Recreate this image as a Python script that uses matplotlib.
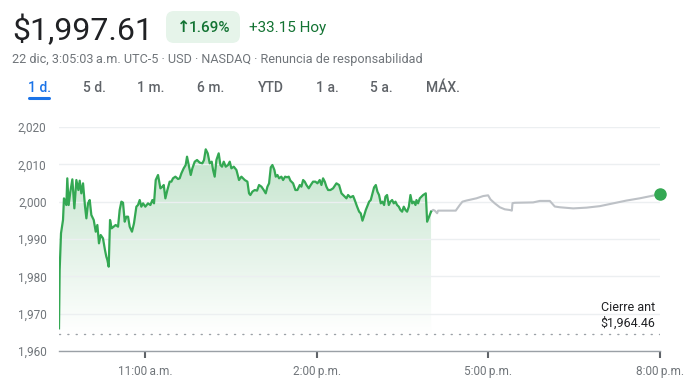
import numpy as np
import matplotlib.pyplot as plt
from matplotlib.colors import LinearSegmentedColormap
from matplotlib.patches import Polygon, FancyBboxPatch
from matplotlib.lines import Line2D
from matplotlib.transforms import IdentityTransform

plt.rcParams['font.family'] = ['Roboto', 'DejaVu Sans']

# minutes after 9:30 a.m. (regular session)
session_min = [0, 0.7, 2.1, 4.2, 5.2, 6.6, 7.7, 8.7, 10.1, 11.9,
               14.0, 16.1, 18.2, 20.3, 21.7, 23.4, 25.2, 27.3, 28.7, 30.4,
               32.2, 33.9, 36.4, 38.5, 40.2, 41.9, 43.7, 46.1, 48.2, 49.6,
               50.7, 52.1, 53.5, 55.2, 57.3, 59.4, 61.9, 63.6, 65.4, 67.1,
               68.9, 70.6, 72.4, 74.1, 76.5, 78.6, 81.1, 82.8, 84.6, 86.3,
               88.1, 90.5, 93.3, 95.8, 97.9, 99.6, 101.4, 103.8, 106.3, 108.4,
               109.8, 111.5, 113.6, 116.0, 117.8, 119.5, 122.0, 124.8, 126.5, 128.3,
               130.7, 132.8, 134.2, 136.0, 138.1, 139.8, 142.3, 144.7, 147.5, 150.3,
               152.0, 153.8, 155.9, 158.0, 160.1, 161.5, 163.2, 165.0, 167.4, 169.2,
               170.9, 172.7, 174.8, 177.2, 179.0, 180.7, 183.2, 186.0, 188.7, 191.2,
               194.7, 197.5, 199.2, 200.6, 202.7, 205.2, 207.6, 209.7, 212.2, 214.6,
               216.7, 218.5, 220.2, 222.0, 223.7, 225.8, 227.2, 229.0, 230.7, 233.1,
               234.9, 237.0, 239.1, 240.8, 242.6, 245.4, 247.8, 249.9, 252.4, 254.1,
               255.9, 257.6, 259.4, 261.8, 263.9, 266.3, 268.8, 270.9, 273.3, 275.1,
               276.8, 278.6, 280.3, 282.1, 284.5, 287.3, 290.8, 293.6, 296.1, 299.6,
               301.3, 303.0, 305.5, 308.3, 310.0, 312.5, 314.6, 316.3, 318.1, 319.5,
               321.6, 323.0, 325.1, 326.8, 328.6, 330.3, 332.1, 333.8, 335.5, 337.3,
               339.0, 340.8, 342.2, 343.9, 345.7, 347.4, 349.2, 350.9, 352.7, 354.4,
               356.2, 357.9, 359.7, 361.4, 363.2, 364.9, 366.7, 368.4, 370.2, 371.9,
               373.7, 374.7, 376.4, 378.2, 379.9, 381.7, 383.4, 384.5, 385.9, 387.3,
               390.0]
session_price = [1966.07, 1981.69, 1991.52, 1995.09, 2000.89, 2000.0, 1999.1, 2006.25, 1999.1, 2002.68,
                 2005.98, 1998.21, 2005.8, 2003.12, 2005.62, 2002.23, 2004.91, 1998.66, 1995.53, 1999.55,
                 2000.44, 1996.43, 1995.09, 1991.96, 1993.75, 1988.84, 1991.07, 1990.18, 1987.05, 1985.27,
                 1984.37, 1982.59, 1995.09, 1992.86, 1993.3, 1993.75, 1993.3, 1997.77, 2000.0, 1999.73,
                 1994.64, 1995.98, 1995.98, 1993.3, 1991.96, 1994.2, 1998.66, 1999.1, 2000.44, 1998.66,
                 1999.55, 1998.66, 1999.55, 1999.1, 2000.44, 1999.55, 2005.8, 2007.14, 2003.57, 2004.02,
                 2004.46, 2000.89, 2003.12, 2005.36, 2005.36, 2006.25, 2006.7, 2006.07, 2006.25, 2007.59,
                 2008.93, 2009.82, 2012.05, 2009.82, 2007.14, 2008.93, 2010.71, 2011.16, 2010.45, 2010.27,
                 2011.16, 2014.02, 2012.95, 2010.27, 2010.71, 2008.48, 2006.7, 2011.16, 2012.95, 2009.82,
                 2009.37, 2010.71, 2009.37, 2009.82, 2010.71, 2008.93, 2009.37, 2008.48, 2005.8, 2006.7,
                 2005.8, 2005.36, 2002.23, 2001.78, 2002.68, 2003.12, 2002.95, 2004.46, 2004.02, 2003.12,
                 2002.23, 2004.02, 2004.91, 2009.2, 2009.82, 2008.48, 2006.7, 2007.14, 2006.25, 2006.7,
                 2005.8, 2006.7, 2006.52, 2006.7, 2005.62, 2004.91, 2003.12, 2003.12, 2004.46, 2004.02,
                 2005.8, 2005.36, 2004.46, 2003.57, 2004.46, 2005.36, 2005.36, 2004.91, 2005.8, 2004.46,
                 2006.25, 2005.36, 2004.02, 2003.12, 2003.12, 2003.57, 2004.91, 2004.46, 2002.23, 2001.34,
                 2000.89, 2001.78, 2001.16, 2001.52, 2000.44, 1998.66, 1997.32, 1996.87, 1994.91, 1995.98,
                 1997.77, 1998.66, 2000.0, 2000.44, 2002.23, 2003.84, 2004.46, 2002.68, 2001.78, 1999.55,
                 2000.0, 1999.1, 2001.34, 2001.78, 1999.1, 2000.0, 2000.44, 1999.55, 2000.0, 1999.1,
                 1998.66, 1997.77, 1997.32, 1998.66, 1997.77, 1997.32, 1998.66, 2001.78, 1999.55, 2000.0,
                 1999.1, 2000.44, 1999.55, 2000.89, 2001.34, 2001.78, 2002.05, 2002.23, 1994.64, 1995.53,
                 1997.32]

# after hours, 4:00 p.m. to 8:00 p.m.
after_min = [390.0, 392.2, 393.9, 396.4, 397.4, 399.2, 415.9, 420.1, 422.9, 427.1,
             437.6, 444.6, 449.8, 452.3, 456.8, 462.1, 467.3, 472.5, 474.7, 475.4,
             477.8, 497.0, 500.5, 504.0, 514.5, 519.7, 525.0, 539.0, 553.0, 566.9,
             580.9, 594.9, 608.8, 630.0]
after_price = [1997.32, 1997.8, 1997.6, 1996.9, 1997.6, 1997.6, 1997.6, 1999.1, 2000.0, 2000.3,
               2000.9, 2001.5, 2001.7, 2000.6, 1999.55, 1998.5, 1997.95, 1997.77, 1997.6, 1999.6,
               1999.7, 1999.8, 2000.0, 2000.2, 2000.2, 1998.7, 1998.5, 1998.2, 1998.4, 1998.8,
               1999.55, 2000.3, 2000.9, 2002.0]

prev_close = 1964.46
y_ticks = [1960, 1970, 1980, 1990, 2000, 2010, 2020]
x_ticks = [90, 270, 450, 630]
x_labels = ['11:00\u202fa.m.', '2:00\u202fp.m.', '5:00\u202fp.m.', '8:00\u202fp.m.']
tabs = ['1 d.', '5 d.', '1 m.', '6 m.', 'YTD', '1 a.', '5 a.', 'MÁX.']
tab_x = [39, 94, 151, 210.5, 271, 327, 381.5, 442.5]

green = '#34a853'
W, H = 698, 391
fig = plt.figure(figsize=(W / 100, H / 100), dpi=100)
ax = fig.add_axes([59 / W, 1 - 351 / H, (660 - 59) / W, (351 - 127) / H])

# gradient under the session line
verts = np.column_stack([np.r_[session_min, session_min[-1], session_min[0]],
                         np.r_[session_price, prev_close, prev_close]])
poly = Polygon(verts, closed=True, facecolor='none', edgecolor='none')
ax.add_patch(poly)
cmap = LinearSegmentedColormap.from_list('g', ['#ffffff', '#c3e4cc'])
grad = np.linspace(0, 1, 256).reshape(-1, 1)
im = ax.imshow(grad, extent=[0, session_min[-1], prev_close, max(session_price)],
               origin='lower', cmap=cmap, aspect='auto', zorder=0.2)
im.set_clip_path(poly)

ax.plot(after_min, after_price, color='#bdc1c6', lw=1.5, zorder=2)
ax.plot(session_min, session_price, color=green, lw=1.6, zorder=3, solid_joinstyle='round')
ax.plot([after_min[-1]], [after_price[-1]], 'o', color=green, ms=8, zorder=4, clip_on=False)
ax.plot([0, 630], [prev_close, prev_close], linestyle=(0, (0.8, 5.2)), color='#9aa0a6',
        lw=1.0, dash_capstyle='round', zorder=1)

ax.set_xlim(0, 630)
ax.set_ylim(1960, 2020)
ax.set_yticks(y_ticks)
ax.set_yticklabels([f'{v:,}' for v in y_ticks])
ax.set_xticks(x_ticks)
ax.set_xticklabels(x_labels)
ax.set_axisbelow(True)
ax.yaxis.grid(True, color='#eceff1', lw=1)
for s in ['top', 'right', 'left']:
    ax.spines[s].set_visible(False)
ax.spines['bottom'].set_color('#9aa0a6')
ax.spines['bottom'].set_linewidth(1)
ax.tick_params(axis='y', length=0, pad=9, labelsize=8.5, labelcolor='#70757a')
ax.tick_params(axis='x', length=5, width=1.5, color='#5f6368', pad=5,
               labelsize=8.5, labelcolor='#70757a')

fig.text(655 / W, 1 - 315.5 / H, 'Cierre ant\n$1,964.46', ha='right', va='center',
         multialignment='right', fontsize=9, color='#202124', linespacing=1.25)

# header
fig.text(12 / W, 1 - 40 / H, '$1,997.61', fontsize=23, color='#202124', va='baseline')
badge = FancyBboxPatch((166, H - 43), 74, 32, boxstyle='round,pad=0,rounding_size=8',
                       fc='#e6f4ea', ec='none', transform=IdentityTransform())
fig.add_artist(badge)
fig.text(176.5 / W, 1 - 32 / H, '\u2191', fontsize=11.5, color='#137333', va='baseline',
         family=['DejaVu Sans'], fontweight='bold')
fig.text(189 / W, 1 - 32 / H, '1.69%', fontsize=11, color='#137333', va='baseline',
         fontweight='medium')
fig.text(249 / W, 1 - 32 / H, '+33.15 Hoy', fontsize=11, color='#137333', va='baseline')
fig.text(12 / W, 1 - 63 / H,
         '22 dic, 3:05:03\u202fa.m. UTC-5 · USD · NASDAQ · Renuncia de responsabilidad',
         fontsize=9.1, color='#70757a', va='baseline')

for i, (t, x) in enumerate(zip(tabs, tab_x)):
    fig.text(x / W, 1 - 92.5 / H, t, fontsize=10, ha='center', va='baseline',
             fontweight='medium', color='#1a73e8' if i == 0 else '#5f6368')
fig.add_artist(Line2D([29 / W, 49 / W], [1 - 97.5 / H, 1 - 97.5 / H], color='#1a73e8',
                      lw=2.2, solid_capstyle='round'))

fig.savefig('out.png', dpi=100)
